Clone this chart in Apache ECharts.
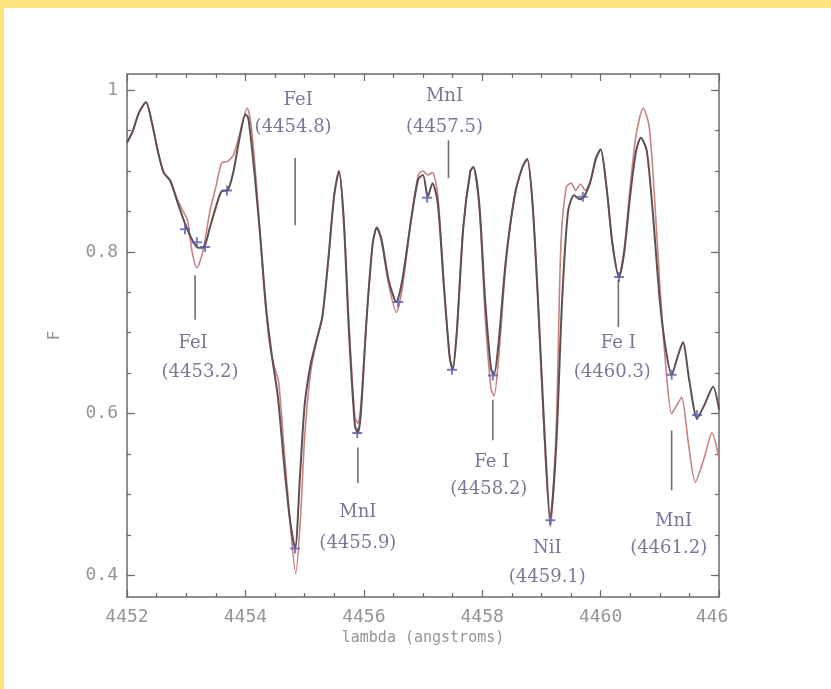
<!DOCTYPE html>
<html><head><meta charset="utf-8">
<script src="https://cdn.jsdelivr.net/npm/echarts@6/dist/echarts.min.js"></script>
<style>
html,body{margin:0;padding:0;background:#FFE37F;width:831px;height:689px;overflow:hidden}
#c{position:absolute;left:4px;top:8px;width:827px;height:681px;background:#fff}
</style></head><body><div id="c"></div>
<script>
// observed spectrum (dark curve)
const obsX = [4452.00,4452.10,4452.20,4452.32,4452.42,4452.52,4452.62,4452.73,4452.85,4452.98,4453.10,4453.20,4453.30,4453.40,4453.50,4453.60,4453.70,4453.80,4453.90,4454.00,4454.05,4454.15,4454.25,4454.35,4454.45,4454.55,4454.65,4454.75,4454.84,4454.92,4455.00,4455.10,4455.20,4455.30,4455.40,4455.50,4455.58,4455.66,4455.75,4455.85,4455.90,4455.95,4456.05,4456.15,4456.22,4456.30,4456.42,4456.55,4456.65,4456.80,4456.92,4457.00,4457.08,4457.16,4457.25,4457.35,4457.45,4457.50,4457.57,4457.68,4457.80,4457.85,4457.95,4458.05,4458.15,4458.20,4458.28,4458.40,4458.55,4458.68,4458.76,4458.85,4458.95,4459.05,4459.15,4459.25,4459.35,4459.45,4459.55,4459.65,4459.72,4459.82,4459.92,4460.00,4460.10,4460.20,4460.31,4460.40,4460.50,4460.60,4460.68,4460.78,4460.88,4461.00,4461.10,4461.20,4461.30,4461.39,4461.50,4461.63,4461.75,4461.90,4462.00];
const obsF = [0.935,0.950,0.972,0.985,0.960,0.925,0.898,0.888,0.862,0.835,0.815,0.805,0.806,0.830,0.855,0.875,0.876,0.900,0.940,0.970,0.965,0.900,0.820,0.730,0.670,0.620,0.540,0.470,0.433,0.520,0.610,0.660,0.690,0.720,0.790,0.870,0.900,0.840,0.700,0.585,0.576,0.600,0.720,0.810,0.830,0.815,0.765,0.738,0.765,0.840,0.890,0.895,0.868,0.885,0.860,0.760,0.670,0.654,0.700,0.830,0.900,0.905,0.860,0.740,0.655,0.648,0.690,0.790,0.870,0.905,0.915,0.860,0.730,0.580,0.470,0.560,0.740,0.850,0.870,0.865,0.868,0.885,0.915,0.927,0.880,0.810,0.769,0.800,0.870,0.925,0.941,0.925,0.850,0.740,0.680,0.648,0.670,0.688,0.640,0.594,0.610,0.633,0.605];
// synthetic spectrum (red curve)
const synX = [4452.00,4452.10,4452.20,4452.32,4452.42,4452.52,4452.62,4452.73,4452.85,4452.95,4453.02,4453.10,4453.18,4453.28,4453.40,4453.50,4453.60,4453.70,4453.80,4453.90,4454.03,4454.10,4454.20,4454.30,4454.40,4454.48,4454.56,4454.65,4454.75,4454.85,4454.93,4455.00,4455.10,4455.20,4455.30,4455.40,4455.50,4455.58,4455.66,4455.75,4455.85,4455.90,4455.95,4456.05,4456.15,4456.22,4456.30,4456.42,4456.55,4456.65,4456.80,4456.92,4457.00,4457.08,4457.16,4457.25,4457.35,4457.45,4457.50,4457.57,4457.68,4457.80,4457.85,4457.95,4458.05,4458.15,4458.20,4458.28,4458.40,4458.55,4458.68,4458.76,4458.85,4458.95,4459.05,4459.15,4459.25,4459.33,4459.42,4459.50,4459.58,4459.66,4459.74,4459.84,4459.92,4460.00,4460.10,4460.20,4460.31,4460.40,4460.50,4460.60,4460.72,4460.82,4460.90,4461.00,4461.10,4461.20,4461.30,4461.37,4461.48,4461.60,4461.75,4461.88,4462.00];
const synF = [0.935,0.950,0.972,0.985,0.960,0.925,0.898,0.888,0.865,0.850,0.840,0.800,0.780,0.800,0.850,0.880,0.910,0.912,0.920,0.945,0.978,0.955,0.870,0.770,0.690,0.660,0.640,0.560,0.470,0.402,0.470,0.570,0.650,0.690,0.720,0.790,0.870,0.900,0.845,0.710,0.595,0.588,0.610,0.720,0.810,0.830,0.812,0.760,0.725,0.755,0.840,0.895,0.900,0.895,0.898,0.870,0.765,0.670,0.654,0.700,0.830,0.900,0.905,0.855,0.720,0.630,0.622,0.670,0.785,0.870,0.905,0.915,0.860,0.725,0.570,0.460,0.580,0.810,0.880,0.885,0.876,0.884,0.876,0.890,0.917,0.927,0.880,0.810,0.769,0.805,0.880,0.945,0.978,0.955,0.880,0.760,0.660,0.600,0.612,0.620,0.565,0.515,0.545,0.576,0.545];
// fitted line points (blue crosses)
const markX = [4452.98,4453.18,4453.32,4453.69,4454.84,4455.89,4456.58,4457.07,4457.49,4458.18,4459.15,4459.70,4460.31,4461.20,4461.63];
const markF = [0.828,0.812,0.806,0.876,0.433,0.576,0.738,0.867,0.654,0.647,0.468,0.868,0.769,0.648,0.598];
// line identifications
const idNames = ['FeI','FeI','MnI','MnI','Fe I','NiI','Fe I','MnI'];
const idWaves = ['(4454.8)','(4453.2)','(4457.5)','(4455.9)','(4458.2)','(4459.1)','(4460.3)','(4461.2)'];
const idX     = [4454.84,4453.15,4457.43,4455.90,4458.18,4459.10,4460.30,4461.20];
const idTickTop = [0.916,0.771,0.938,0.558,0.617,null,0.765,0.579];
const idTickBot = [0.833,0.716,0.891,0.514,0.567,null,0.707,0.505];
const idNameY = [0.988,0.687,0.992,0.478,0.540,0.433,0.687,0.467];
const idWaveY = [0.954,0.651,0.954,0.440,0.506,0.397,0.651,0.433];
const idNameDx = [3,-2,-4,0,-1,0,0,2];
const idWaveDx = [-2,5,-4,0,-4,0,-6,-3];
// axes
const xTickLabels = {4452:'4452',4454:'4454',4456:'4456',4458:'4458',4460:'4460',4462:'446'};
const yMajor = [0.4,0.6,0.8,1.0];
const yLabels = ['0.4','0.6','0.8','1'];
const yMinor = [0.4,0.45,0.5,0.55,0.6,0.65,0.7,0.75,0.8,0.85,0.9,0.95,1.0];

const zip = (a,b) => a.map((v,i)=>[v,b[i]]);
const chart = echarts.init(document.getElementById('c'));
const mono = 'DejaVu Sans Mono';
const serif = 'DejaVu Serif';
const axisCol = '#6a6a6a';
const labCol = '#959595';
function xa(pos, lab){
  return {type:'value', position:pos, min:4452, max:4462, interval:2,
    axisLine:{show:true,onZero:false,lineStyle:{color:axisCol,width:1.5}},
    axisTick:{show:true,inside:true,length:7,lineStyle:{color:axisCol,width:1.2}},
    minorTick:{show:true,splitNumber:4,length:4,lineStyle:{color:axisCol,width:1.2}},
    splitLine:{show:false}, minorSplitLine:{show:false},
    axisLabel:{show:lab,margin:11,color:labCol,fontFamily:mono,fontSize:18,
      formatter:v=>{const r=Math.round(v);const t=xTickLabels[r]||'';return r===4462?'{e|'+t+'}':t;},
      rich:{e:{color:labCol,fontFamily:mono,fontSize:18,padding:[0,14,0,0]}}},
    name: lab?'lambda (angstroms)':'', nameLocation:'middle', nameGap:33,
    nameTextStyle:{color:labCol,fontFamily:mono,fontSize:15}};
}
function ya(pos, vals, len, lab, line){
  return {type:'value', position:pos, min:0.373, max:1.02,
    axisLine:{show:line,onZero:false,lineStyle:{color:axisCol,width:1.5}},
    axisTick:{show:true,inside:true,length:len,customValues:vals,lineStyle:{color:axisCol,width:1.2}},
    splitLine:{show:false},
    axisLabel:{show:lab,customValues:yMajor,margin:9,color:labCol,fontFamily:mono,fontSize:18,
      formatter:v=>{const i=yMajor.findIndex(m=>Math.abs(m-v)<1e-6);return i>=0?yLabels[i]:'';}},
    name: lab?'F':'', nameLocation:'middle', nameGap:64, nameRotate:90,
    nameTextStyle:{color:labCol,fontFamily:mono,fontSize:16}};
}
const nameData = idNames.map((n,i)=>({value:[idX[i],idNameY[i]],label:{formatter:n,offset:[idNameDx[i],0]}}));
const waveData = idWaves.map((n,i)=>({value:[idX[i],idWaveY[i]],label:{formatter:n,offset:[idWaveDx[i],0]}}));
const tickData = idX.map((x,i)=>[x,idTickTop[i],idTickBot[i]]).filter(d=>d[1]!==null);
const labelStyle = {show:true,position:'inside',color:'#55567e',fontFamily:serif,fontSize:18};
chart.setOption({
  animation:false,
  grid:{left:123,top:66,right:112,bottom:92,containLabel:false},
  xAxis:[xa('bottom',true), xa('top',false)],
  yAxis:[ya('left',yMajor,8,true,true), ya('left',yMinor,4,false,false),
         ya('right',yMajor,8,false,true), ya('right',yMinor,4,false,false)],
  series:[
    {type:'line', data:zip(synX,synF), showSymbol:false, smooth:0.25,
     lineStyle:{color:'#c98282',width:1.6}, z:2},
    {type:'line', data:zip(obsX,obsF), showSymbol:false, smooth:0.25,
     lineStyle:{color:'#5f4f52',width:2}, z:3},
    {type:'scatter', data:zip(markX,markF), symbol:'path://M4,0h2v4h4v2h-4v4h-2v-4h-4v-2h4z',
     symbolSize:10, itemStyle:{color:'#5a5aa8'}, z:4},
    {type:'custom', data:tickData, z:2,
     renderItem:(p,api)=>{const a=api.coord([api.value(0),api.value(1)]);const b=api.coord([api.value(0),api.value(2)]);
       return {type:'line',shape:{x1:a[0],y1:a[1],x2:b[0],y2:b[1]},style:{stroke:'#707070',lineWidth:1.6}};}},
    {type:'scatter', data:nameData, symbolSize:1, itemStyle:{color:'rgba(0,0,0,0)'}, label:labelStyle, z:5},
    {type:'scatter', data:waveData, symbolSize:1, itemStyle:{color:'rgba(0,0,0,0)'}, label:labelStyle, z:5}
  ]
});
</script></body></html>
